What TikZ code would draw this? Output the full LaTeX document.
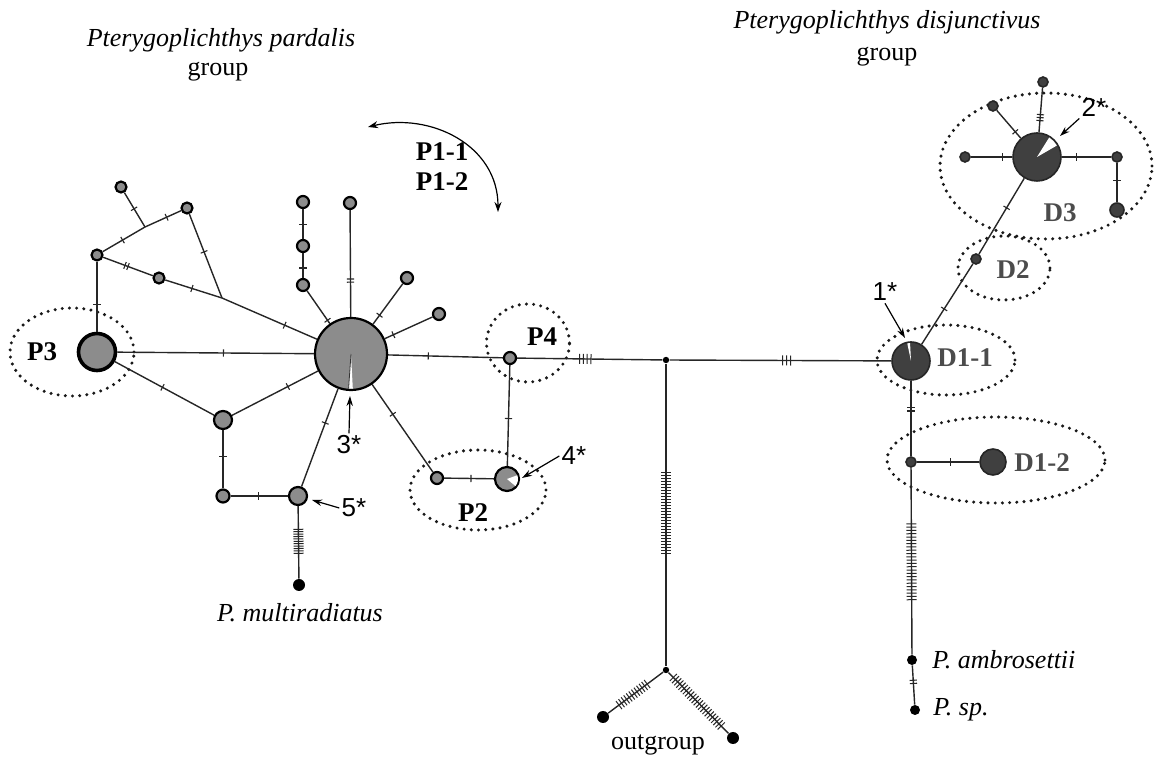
\documentclass[tikz,border=0pt]{standalone}
\usepackage{fontspec}
\setmainfont{Liberation Serif}
\newfontfamily\sansf{Liberation Sans}
\usetikzlibrary{decorations.markings,arrows.meta,calc}
\begin{document}
\begin{tikzpicture}[x=0.5pt,y=-0.5pt,
  edge/.style={draw=black!85,line width=0.7pt},
  hap/.style={circle,draw=black,line width=1.1pt,fill=black!45,inner sep=0pt,minimum size=#1pt},
  dhap/.style={circle,draw=black!85,line width=0.8pt,fill=black!75,inner sep=0pt,minimum size=#1pt},
  bhap/.style={circle,fill=black,inner sep=0pt,minimum size=#1pt},
  tk/.style={postaction={decorate,decoration={markings,mark=at position #1 with {\draw[line width=0.55pt] (0,-1.8pt)--(0,1.8pt);}}}},
  dtk/.style={postaction={decorate,decoration={markings,mark=at position #1 with {\draw[line width=0.55pt] (-0.8pt,-1.8pt)--(-0.8pt,1.8pt) (0.8pt,-1.8pt)--(0.8pt,1.8pt);}}}},
  ttk/.style={postaction={decorate,decoration={markings,mark=at position #1 with {\draw[line width=0.55pt] (-1.5pt,-1.8pt)--(-1.5pt,1.8pt) (0,-1.8pt)--(0,1.8pt) (1.5pt,-1.8pt)--(1.5pt,1.8pt);}}}},
  mtk/.style n args={3}{postaction={decorate,decoration={markings,mark=between positions #1 and #2 step #3 with {\draw[line width=0.5pt] (0,-2.5pt)--(0,2.5pt);}}}},
  dotline/.style={draw=black!90,line width=1.7pt,dash pattern=on 0pt off 3.6pt,line cap=round},
  tit/.style={font=\fontsize{13}{15}\selectfont\itshape,inner sep=0pt},
  txt/.style={font=\fontsize{13}{15}\selectfont,inner sep=0pt},
  bl/.style={font=\fontsize{13.5}{16}\selectfont\bfseries,inner sep=0pt},
  dl/.style={font=\fontsize{13.5}{16}\selectfont\bfseries,text=black!70,inner sep=0pt},
  star/.style={font=\sansf\fontsize{13}{15}\selectfont,inner sep=1pt},
  larr/.style={draw=black,line width=0.6pt,-{Stealth[length=5pt,width=3.2pt]}}
]
\useasboundingbox (0,0) rectangle (1157,758);

% ---------- dotted group ellipses ----------
\draw[dotline] (72,352) ellipse [x radius=31pt,y radius=22pt];
\draw[dotline] (528,343) ellipse [x radius=20.75pt,y radius=19.5pt];
\draw[dotline] (478,490) ellipse [x radius=34pt,y radius=20pt];
\draw[dotline] (946,360) ellipse [x radius=34.5pt,y radius=17.5pt];
\draw[dotline] (996,460) ellipse [x radius=54.5pt,y radius=21.5pt];
\draw[dotline] (1004,268) ellipse [x radius=23pt,y radius=16pt];
\draw[dotline] (1046,166) ellipse [x radius=53pt,y radius=36.5pt];

% ---------- haplotype nodes: P. pardalis group ----------
\node[hap=36] (H) at (351,354) {};
\node[hap=18.5,line width=1.8pt] (P3) at (97,352) {};
\node[hap=5.5] (A) at (97,255) {};
\node[hap=5.5] (B) at (121,187) {};
\node[hap=5.5] (C) at (187,208) {};
\node[hap=5.5] (D) at (159,278) {};
\coordinate (J1) at (145,227);
\coordinate (J2) at (222,298);
\node[hap=9] (E) at (223,420) {};
\node[hap=6.5] (F) at (223,496) {};
\node[hap=9] (G) at (298,496) {};
\node[bhap=6] (MR) at (299,585) {};
\node[hap=6] (U1) at (303,202) {};
\node[hap=6] (U2) at (303,246) {};
\node[hap=6] (U3) at (303,285) {};
\node[hap=6] (U4) at (350,203) {};
\node[hap=6] (U5) at (407,278) {};
\node[hap=6] (U6) at (439,314) {};
\node[hap=6] (P4n) at (510,358) {};
\node[hap=6] (P2s) at (437,478) {};
\node[hap=12] (P2b) at (507,479) {};

% ---------- central junctions and outgroup ----------
\node[bhap=3.2] (K) at (666,360) {};
\node[bhap=3.2] (L) at (666,670) {};
\node[bhap=6] (OL) at (603,717) {};
\node[bhap=6] (OR) at (733,738) {};

% ---------- P. disjunctivus group ----------
\node[dhap=19] (D11) at (911,361) {};
\node[dhap=5] (D2n) at (976,259) {};
\node[dhap=24] (D3h) at (1037,157) {};
\node[dhap=5] (D3L) at (965,157) {};
\node[dhap=5] (D3UL) at (993,106) {};
\node[dhap=5] (D3T) at (1043,82) {};
\node[dhap=5] (D3R) at (1117,157) {};
\node[dhap=7] (D3RB) at (1117,210) {};
\node[dhap=5] (M) at (911,462) {};
\node[dhap=13] (D12) at (993,462) {};
\node[bhap=5] (PA) at (912,660) {};
\node[bhap=5] (PS) at (915,710) {};

% ---------- edges ----------
\draw[edge,tk=0.61] (A) -- (P3);
\draw[edge,tk=0.47] (A) -- (J1);
\draw[edge,tk=0.6] (J1) -- (C);
\draw[edge,tk=0.47] (B) -- (J1);
\draw[edge,dtk=0.47] (A) -- (D);
\draw[edge,tk=0.47] (D) -- (J2);
\draw[edge,tk=0.45] (C) -- (J2);
\draw[edge,tk=0.66] (J2) -- (H);
\draw[edge,tk=0.54] (P3) -- (H);
\draw[edge,tk=0.48] (P3) -- (E);
\draw[edge,tk=0.65] (E) -- (H);
\draw[edge,tk=0.45] (E) -- (F);
\draw[edge,tk=0.48] (F) -- (G);
\draw[edge,tk=0.65] (G) -- (H);
\draw[edge,mtk={0.32}{0.68}{1.2pt}] (G) -- (MR);
\draw[edge,tk=0.53] (U1) -- (U2);
\draw[edge,tk=0.6] (U2) -- (U3);
\draw[edge,tk=0.9] (U3) -- (H);
\draw[edge,dtk=0.66] (U4) -- (H);
\draw[edge,tk=0.78] (U5) -- (H);
\draw[edge,tk=0.82] (U6) -- (H);
\draw[edge,tk=0.35] (H) -- (P4n);
\draw[edge,tk=0.34] (H) -- (P2s);
\draw[edge,tk=0.53] (P4n) -- (P2b);
\draw[edge,tk=0.54] (P2s) -- (P2b);
\draw[edge,mtk={0.43}{0.51}{1.9pt}] (P4n) -- (K);
\draw[edge,mtk={0.51}{0.56}{2pt}] (K) -- (D11);
\draw[edge,mtk={0.36}{0.63}{1.5pt}] (K) -- (L);
\draw[edge,mtk={0.29}{0.84}{1.6pt}] (L) -- (OL);
\draw[edge,mtk={0.08}{0.9}{1.55pt}] (L) -- (OR);
\draw[edge,tk=0.44] (D11) -- (D2n);
\draw[edge,tk=0.61] (D2n) -- (D3h);
\draw[edge,tk=0.76] (D3L) -- (D3h);
\draw[edge,tk=0.77] (D3UL) -- (D3h);
\draw[edge,ttk=0.67] (D3T) -- (D3h);
\draw[edge,tk=0.3] (D3h) -- (D3R);
\draw[edge,tk=0.45] (D3R) -- (D3RB);
\draw[edge,dtk=0.38] (D11) -- (M);
\draw[edge,tk=0.54] (M) -- (D12);
\draw[edge,mtk={0.3}{0.72}{1.65pt}] (M) -- (PA);
\draw[edge,dtk=0.42] (PA) -- (PS);

% ---------- pie wedges ----------
\fill[white] (H.center) -- ++(-94:17.3pt) arc[start angle=-94,end angle=-87,radius=17.3pt] -- cycle;
\draw[black!80,line width=0.4pt] (H.center) -- ++(-94:17.3pt);
\fill[white] (P2b.center) -- ++(-40:5.5pt) arc[start angle=-40,end angle=20,radius=5.5pt] -- cycle;
\fill[white] (D11.center) -- ++(93:9pt) arc[start angle=93,end angle=102,radius=9pt] -- cycle;
\fill[white] (D3h.center) -- ++(30:11.5pt) arc[start angle=30,end angle=58,radius=11.5pt] -- cycle;

% ---------- labels ----------
\node[tit] (t1) at (221,40) {Pterygoplichthys pardalis};
\node[txt] (t1g) at (218,72) {group};
\node[tit] (t2) at (887,22) {Pterygoplichthys disjunctivus};
\node[txt] (t2g) at (887,57) {group};
\node[bl] (p11) at (442,152) {P1-1};
\node[bl] (p12) at (442,182) {P1-2};
\node[bl] (p3l) at (42,352) {P3};
\node[bl] (p4l) at (542,337) {P4};
\node[bl] (p2l) at (473,513) {P2};
\node[dl] (d11l) at (965,358) {D1-1};
\node[dl] (d12l) at (1042,463) {D1-2};
\node[dl] (d2l) at (1013,270) {D2};
\node[dl] (d3l) at (1060,213) {D3};
\node[tit] (mrl) at (300,613) {P. multiradiatus};
\node[tit,anchor=west] (pal) at (932,660) {P. ambrosettii};
\node[tit,anchor=west] (psl) at (933,710) {P. sp.};
\node[txt] (ogl) at (658,745) {outgroup};

% ---------- star labels and arrows ----------
\node[star] (l3) at (349,445) {3*};
\coordinate (t3) at (350,396);
\draw[larr] (l3.north) -- (t3);
\node[star] (l5) at (354,508) {5*};
\coordinate (t5) at (312,500);
\draw[larr] (l5.west) -- (t5);
\node[star] (l4) at (574,456) {4*};
\coordinate (t4) at (522,478);
\draw[larr] (l4.west) -- (t4);
\node[star] (l1) at (885,292) {1*};
\coordinate (t1a) at (905,338);
\draw[larr] (l1.south) -- (t1a);
\node[star] (l2) at (1094,107) {2*};
\coordinate (t2a) at (1060,136);
\draw[larr] (l2.south west) -- (t2a);

% ---------- curved arrow ----------
\coordinate (cA) at (368,127);
\coordinate (cB) at (498,212);
\draw[line width=0.6pt,{Stealth[length=5pt,width=3.5pt]}-{Stealth[length=5pt,width=3.5pt]}] (cA) .. controls (430,112) and (498,145) .. (cB);
\end{tikzpicture}
\end{document}
